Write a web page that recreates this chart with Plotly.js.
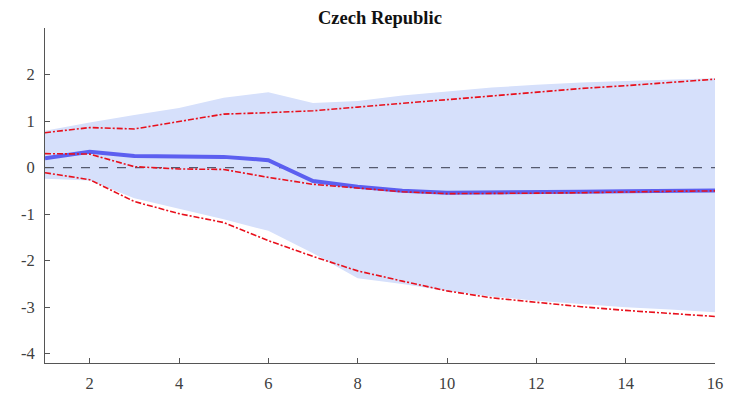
<!DOCTYPE html>
<html>
<head>
<meta charset="utf-8">
<script src="https://cdn.plot.ly/plotly-3.0.1.min.js"></script>
<style>html,body{margin:0;padding:0;background:#fff;}#chart{width:737px;height:395px;}</style>
</head>
<body>
<div id="chart"></div>
<script>
const horizon = [1,2,3,4,5,6,7,8,9,10,11,12,13,14,15,16];
const bandUpper = [0.79,0.97,1.13,1.28,1.50,1.62,1.39,1.43,1.55,1.64,1.72,1.78,1.83,1.86,1.89,1.92];
const bandLower = [-0.24,-0.28,-0.66,-0.89,-1.11,-1.36,-1.84,-2.38,-2.50,-2.65,-2.77,-2.86,-2.93,-3.00,-3.05,-3.11];
const redUpper = [0.75,0.86,0.83,0.99,1.15,1.18,1.22,1.30,1.38,1.46,1.55,1.63,1.70,1.76,1.83,1.90];
const redMedian = [0.30,0.29,0.02,-0.03,-0.04,-0.21,-0.36,-0.44,-0.52,-0.56,-0.56,-0.55,-0.54,-0.52,-0.51,-0.50];
const redLower = [-0.11,-0.26,-0.73,-0.99,-1.18,-1.57,-1.91,-2.22,-2.44,-2.65,-2.80,-2.90,-2.99,-3.07,-3.13,-3.20];
const blueLine = [0.20,0.34,0.25,0.23,0.23,0.16,-0.29,-0.41,-0.50,-0.54,-0.54,-0.53,-0.52,-0.51,-0.50,-0.49];
const zeroLine = horizon.map(() => 0);
const xTicks = [2,4,6,8,10,12,14,16];
const yTicks = [-4,-3,-2,-1,0,1,2];

const serif = '"Liberation Serif", "Times New Roman", serif';
const redDash = '6px,2px,2px,2px';

const traces = [
  {x: horizon, y: bandLower, mode: 'lines', line: {width: 0}, hoverinfo: 'skip', showlegend: false},
  {x: horizon, y: bandUpper, mode: 'lines', line: {width: 0}, fill: 'tonexty', fillcolor: 'rgb(214,224,251)', showlegend: false},
  {x: horizon, y: zeroLine, mode: 'lines', line: {color: '#555a6e', width: 1.3, dash: 'dash'}, showlegend: false},
  {x: horizon, y: blueLine, mode: 'lines', line: {color: 'rgb(92,95,240)', width: 4}, showlegend: false},
  {x: horizon, y: redUpper, mode: 'lines', line: {color: '#e8101c', width: 1.6, dash: redDash}, showlegend: false},
  {x: horizon, y: redMedian, mode: 'lines', line: {color: '#e8101c', width: 1.6, dash: redDash}, showlegend: false},
  {x: horizon, y: redLower, mode: 'lines', line: {color: '#e8101c', width: 1.6, dash: redDash}, showlegend: false}
];

const layout = {
  width: 737, height: 395,
  margin: {l: 45, r: 22, t: 28, b: 32},
  paper_bgcolor: '#fff', plot_bgcolor: '#fff',
  font: {family: serif, size: 16.5, color: '#404040'},
  title: {text: '<b>Czech Republic</b>', x: 0.5155, xanchor: 'center', y: 0.955, yanchor: 'middle',
          font: {family: serif, size: 18.5, color: '#111'}},
  xaxis: {range: [1, 16], tickvals: xTicks, ticktext: xTicks.map(String), ticks: 'inside', ticklen: 5,
          tickcolor: '#555', showline: true, linecolor: '#555', linewidth: 1, showgrid: false, zeroline: false,
          ticklabelstandoff: 5, tickfont: {family: serif, size: 16.5, color: '#404040'}},
  yaxis: {range: [-4.2, 3], tickvals: yTicks, ticktext: yTicks.map(String), ticks: 'inside', ticklen: 5,
          tickcolor: '#555', showline: true, linecolor: '#555', linewidth: 1, showgrid: false, zeroline: false,
          ticklabelstandoff: 6, tickfont: {family: serif, size: 16.5, color: '#404040'}}
};

Plotly.newPlot('chart', traces, layout, {displayModeBar: false, staticPlot: true});
</script>
</body>
</html>
